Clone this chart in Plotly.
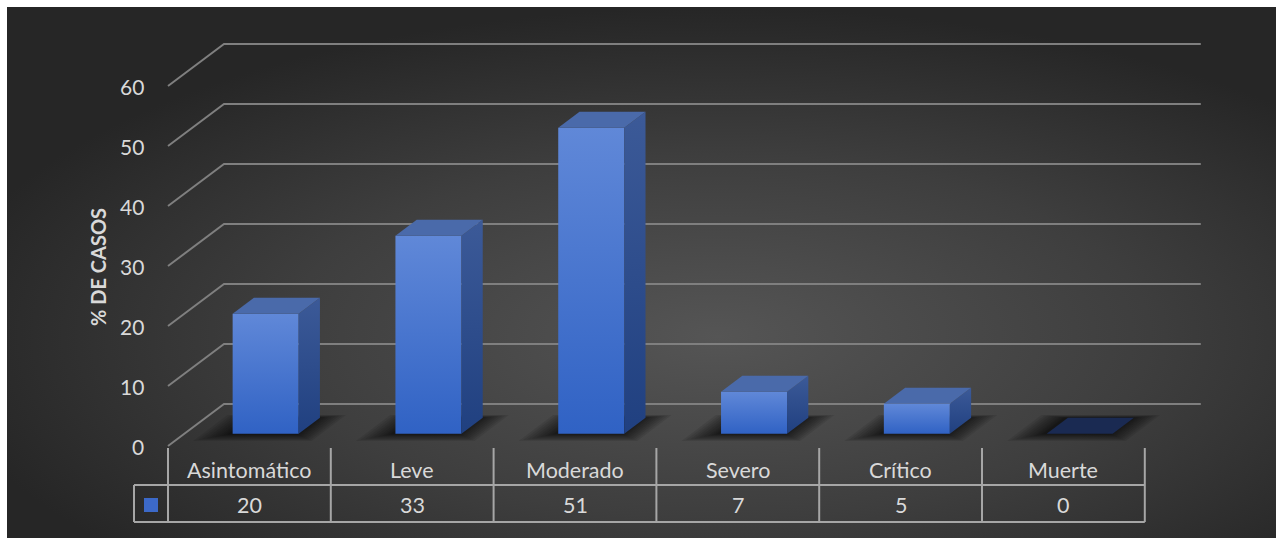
import base64
import plotly.graph_objects as go

# ---------------- data ----------------
categories = ["Asintomático", "Leve", "Moderado", "Severo", "Crítico", "Muerte"]
values = [20, 33, 51, 7, 5, 0]
y_ticks = [0, 10, 20, 30, 40, 50, 60]
axis_title = "% DE CASOS"

# ---------------- geometry (layout constants) ----------------
W, H = 1276, 538
X0_PX = 168.0      # px of left edge of first category (front plane)
CAT_PX = 162.8     # px per category
Y0_PX = 446.0      # px of value 0 at front plane
VAL_PX = 6.0       # px per value unit
DX = 56 / CAT_PX   # full depth offset in category units
DV = 42 / VAL_PX   # full depth offset in value units
D0, D1 = 0.29, 0.67
BW = 66 / CAT_PX
N = len(categories)


def px_to_x(px):
    return (px - X0_PX) / CAT_PX - 0.5


def px_to_v(py):
    return (Y0_PX - py) / VAL_PX


FONT = "Lato, Carlito, Calibri, sans-serif"
TXT = "#d9d9d9"
GRID = "#7f7f7f"
TABLE = "#a6a6a6"

fig = go.Figure()

# ---- gridlines (oblique 3D walls) ----
gx, gy = [], []
for t in y_ticks:
    gx += [-0.5, -0.5 + DX, N - 0.5 + DX, None]
    gy += [t, t + DV, t + DV, None]
fig.add_trace(go.Scatter(x=gx, y=gy, mode="lines",
                         line=dict(color=GRID, width=2), hoverinfo="skip"))

# ---- soft shadows under bars (layered to imitate blur) ----
for i, v in enumerate(values):
    xl = i - BW / 2
    xr = i + BW / 2
    for e in [0.17, 0.15, 0.13, 0.11, 0.09, 0.07, 0.05, 0.035, 0.02, 0.01]:
        ed = e * 1.1
        da = max(D0 - ed * 0.9, 0.03)
        db = min(D1 + ed * 0.35, 1.0)
        sx = -0.015
        px = [xl - e + sx + da * DX, xr + e * 0.9 + sx + da * DX,
              xr + e * 0.9 + sx + db * DX, xl - e + sx + db * DX, xl - e + sx + da * DX]
        py = [da * DV, da * DV, db * DV, db * DV, da * DV]
        fig.add_trace(go.Scatter(x=px, y=py, mode="lines", fill="toself",
                                 fillcolor="rgba(0,0,0,0.085)",
                                 line=dict(width=0), hoverinfo="skip"))

# ---- 3D bars ----
dd = D1 - D0
for i, v in enumerate(values):
    xl = i - BW / 2 + D0 * DX
    xr = i + BW / 2 + D0 * DX
    vb = D0 * DV
    vt = v + D0 * DV
    if v > 0:
        # front face
        fig.add_trace(go.Scatter(
            x=[xl, xr, xr, xl, xl], y=[vb, vb, vt, vt, vb], mode="lines",
            fill="toself",
            fillgradient=dict(type="vertical",
                              colorscale=[[0, "rgb(48,98,196)"], [1, "rgb(96,136,216)"]]),
            line=dict(width=0), hoverinfo="skip"))
        # side face
        fig.add_trace(go.Scatter(
            x=[xr, xr + dd * DX, xr + dd * DX, xr, xr],
            y=[vb, vb + dd * DV, vt + dd * DV, vt, vb], mode="lines",
            fill="toself",
            fillgradient=dict(type="vertical",
                              colorscale=[[0, "rgb(32,64,128)"], [1, "rgb(60,90,152)"]]),
            line=dict(width=0), hoverinfo="skip"))
        topcol = "rgb(74,106,170)"
    else:
        topcol = "rgb(26,42,82)"
    # top face
    fig.add_trace(go.Scatter(
        x=[xl, xr, xr + dd * DX, xl + dd * DX, xl],
        y=[vt, vt, vt + dd * DV, vt + dd * DV, vt], mode="lines",
        fill="toself", fillcolor=topcol, line=dict(width=0), hoverinfo="skip"))

# ---- tick labels ----
annotations = []
for t in y_ticks:
    annotations.append(dict(x=-0.5, y=t, xref="x", yref="y", text=str(t),
                            showarrow=False, xanchor="right", yanchor="middle",
                            xshift=-22, font=dict(family=FONT, size=21, color=TXT)))

# ---- axis title ----
annotations.append(dict(x=px_to_x(98), y=px_to_v(267), xref="x", yref="y",
                        text="<b>" + axis_title + "</b>", textangle=-90, showarrow=False,
                        font=dict(family=FONT, size=20, color=TXT)))

# ---- data table ----
v_hdr = px_to_v(470)
v_val = px_to_v(505)
for i, (c, v) in enumerate(zip(categories, values)):
    annotations.append(dict(x=i, y=v_hdr, xref="x", yref="y", text=c, showarrow=False,
                            font=dict(family=FONT, size=21.5, color=TXT)))
    annotations.append(dict(x=i, y=v_val, xref="x", yref="y", text=str(v), showarrow=False,
                            font=dict(family=FONT, size=21.5, color=TXT)))

shapes = []
v_top = px_to_v(448)
v_mid = px_to_v(485)
v_bot = px_to_v(522)
x_key = px_to_x(134)
for i in range(N + 1):
    shapes.append(dict(type="line", xref="x", yref="y", x0=i - 0.5, x1=i - 0.5,
                       y0=v_top, y1=v_bot, line=dict(color=TABLE, width=2)))
shapes.append(dict(type="line", xref="x", yref="y", x0=x_key, x1=x_key,
                   y0=v_mid, y1=v_bot, line=dict(color=TABLE, width=2)))
for vv in (v_mid, v_bot):
    shapes.append(dict(type="line", xref="x", yref="y", x0=x_key, x1=N - 0.5,
                       y0=vv, y1=vv, line=dict(color=TABLE, width=2)))

# legend key square
fig.add_trace(go.Scatter(x=[(x_key - 0.5) / 2], y=[v_val], mode="markers",
                         marker=dict(symbol="square", size=14,
                                     color="rgb(60,105,200)", line=dict(width=0)),
                         hoverinfo="skip"))

# ---- background radial gradient ----
bw, bh = W - 7, H - 7
svg = (f'<svg xmlns="http://www.w3.org/2000/svg" width="{bw}" height="{bh}" '
       f'viewBox="0 0 {bw} {bh}" preserveAspectRatio="none">'
       '<defs><radialGradient id="g" cx="0.56" cy="0.62" r="0.62">'
       '<stop offset="0" stop-color="#555555"/>'
       '<stop offset="0.55" stop-color="#3e3e3e"/>'
       '<stop offset="1" stop-color="#262626"/></radialGradient></defs>'
       f'<rect width="{bw}" height="{bh}" fill="url(#g)"/></svg>')
src = "data:image/svg+xml;base64," + base64.b64encode(svg.encode()).decode()

fig.update_layout(
    width=W, height=H,
    margin=dict(l=0, r=0, t=0, b=0),
    paper_bgcolor="white",
    plot_bgcolor="rgba(0,0,0,0)",
    showlegend=False,
    xaxis=dict(range=[px_to_x(0), px_to_x(W)], visible=False, fixedrange=True),
    yaxis=dict(range=[px_to_v(H), px_to_v(0)], visible=False, fixedrange=True),
    annotations=annotations,
    shapes=shapes,
    images=[dict(source=src, xref="paper", yref="paper", x=7 / W, y=1 - 7 / H,
                 sizex=bw / W, sizey=bh / H, sizing="stretch", xanchor="left",
                 yanchor="top", layer="below")],
)

fig.write_html("out.html")
